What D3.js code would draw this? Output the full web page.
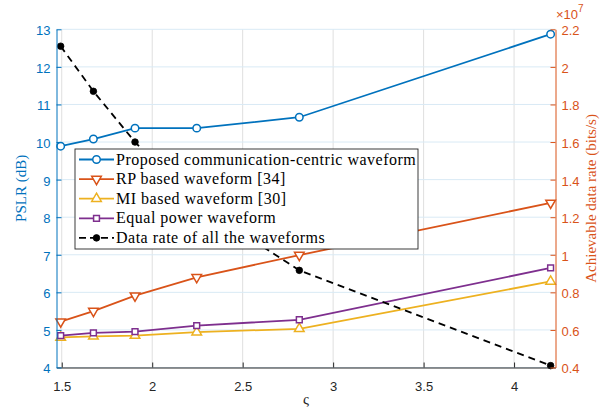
<!DOCTYPE html>
<html>
<head>
<meta charset="utf-8">
<script src="https://cdn.jsdelivr.net/npm/d3@7"></script>
<style>
  body { margin: 0; background: #fff; }
  svg { display: block; }
</style>
</head>
<body>
<svg id="chart" width="614" height="409"></svg>
<script>
// ς values shared by every series
const xValues = [1.494, 1.675, 1.905, 2.246, 2.813, 4.202];

// PSLR (dB), left axis
const proposed   = [9.89, 10.08, 10.37, 10.37, 10.66, 12.87];
const rpBased    = [5.22, 5.50, 5.91, 6.40, 6.99, 8.38];
const miBased    = [4.80, 4.83, 4.85, 4.94, 5.03, 6.29];
const equalPower = [4.85, 4.92, 4.955, 5.115, 5.27, 6.65];

// Achievable data rate (bits/s), right axis
const dataRate = [2.11e7, 1.87e7, 1.60e7, 1.27e7, 0.917e7, 0.41e7];

// Tick values
const xTicks = [1.5, 2, 2.5, 3, 3.5, 4];
const leftTicks = [4, 5, 6, 7, 8, 9, 10, 11, 12, 13];
const rightTicks = [0.4e7, 0.6e7, 0.8e7, 1.0e7, 1.2e7, 1.4e7, 1.6e7, 1.8e7, 2.0e7, 2.2e7];

const seriesNames = [
  "Proposed communication-centric waveform",
  "RP based waveform [34]",
  "MI based waveform [30]",
  "Equal power waveform",
  "Data rate of all the waveforms"
];

const BLUE = "#0072BD", ORANGE = "#D95319", YELLOW = "#EDB120",
      PURPLE = "#7E2F8E", BLACK = "#000000", AXIS = "#262626";
const SERIF = "'Liberation Serif', 'DejaVu Serif', serif";
const SANS = "'Liberation Sans', Arial, Helvetica, sans-serif";

const svg = d3.select("#chart");
const plot = { left: 56.5, right: 555.5, top: 29.3, bottom: 367.5 };

const x = d3.scaleLinear().domain([1.471, 4.229]).range([plot.left, plot.right]);
const yL = d3.scaleLinear().domain([4, 13]).range([plot.bottom, plot.top]);
const yR = d3.scaleLinear().domain([0.4e7, 2.2e7]).range([plot.bottom, plot.top]);

// Grid
const grid = svg.append("g");
grid.selectAll("line.v").data(xTicks).join("line")
  .attr("x1", d => x(d)).attr("x2", d => x(d))
  .attr("y1", plot.top).attr("y2", plot.bottom)
  .attr("stroke", "#dfdfdf").attr("stroke-width", 1);
grid.selectAll("line.h").data(leftTicks).join("line")
  .attr("x1", plot.left).attr("x2", plot.right)
  .attr("y1", d => yL(d)).attr("y2", d => yL(d))
  .attr("stroke", "#d9eaf5").attr("stroke-width", 1);

// Series definitions
const series = [
  { name: seriesNames[0], values: proposed,   y: yL, color: BLUE,   marker: "circle" },
  { name: seriesNames[1], values: rpBased,    y: yL, color: ORANGE, marker: "down" },
  { name: seriesNames[2], values: miBased,    y: yL, color: YELLOW, marker: "up" },
  { name: seriesNames[3], values: equalPower, y: yL, color: PURPLE, marker: "square" },
  { name: seriesNames[4], values: dataRate,   y: yR, color: BLACK,  marker: "dot", dash: "7,5" }
];

function markerPath(kind) {
  switch (kind) {
    case "circle": return d3.symbol(d3.symbolCircle, 44)();
    case "up":     return d3.symbol(d3.symbolTriangle, 40)();
    case "down":   return d3.symbol(d3.symbolTriangle, 40)();
    case "square": return d3.symbol(d3.symbolSquare, 34)();
    case "dot":    return d3.symbol(d3.symbolCircle, 34)();
  }
}

function drawMarker(g, kind, color, cx, cy) {
  const p = g.append("path")
    .attr("d", markerPath(kind))
    .attr("transform", `translate(${cx},${cy})` + (kind === "down" ? " rotate(180)" : ""));
  if (kind === "dot") {
    p.attr("fill", color).attr("stroke", color).attr("stroke-width", 0.8);
  } else {
    p.attr("fill", "#fff").attr("stroke", color).attr("stroke-width", 1.5);
  }
}

const dataLayer = svg.append("g");
series.forEach(s => {
  const pts = xValues.map((xv, i) => [x(xv), s.y(s.values[i])]);
  dataLayer.append("path")
    .attr("d", d3.line()(pts))
    .attr("fill", "none")
    .attr("stroke", s.color)
    .attr("stroke-width", 1.8)
    .attr("stroke-dasharray", s.dash || null);
  const mg = dataLayer.append("g");
  pts.forEach(p => drawMarker(mg, s.marker, s.color, p[0], p[1]));
});

// Axes
const xAxis = d3.axisBottom(x).tickValues(xTicks).tickFormat(d => d3.format("")(d))
  .tickSizeInner(-5).tickSizeOuter(0).tickPadding(14);
const gx = svg.append("g").attr("transform", `translate(0,${plot.bottom})`).call(xAxis);
gx.select(".domain").attr("stroke", AXIS).attr("stroke-width", 1);
gx.selectAll(".tick line").attr("stroke", AXIS);
gx.selectAll(".tick text").attr("fill", AXIS).style("font-family", SANS).style("font-size", "13px");

const leftAxis = d3.axisLeft(yL).tickValues(leftTicks)
  .tickSizeInner(-5).tickSizeOuter(0).tickPadding(6);
const gl = svg.append("g").attr("transform", `translate(${plot.left},0)`).call(leftAxis);
gl.select(".domain").attr("stroke", BLUE).attr("stroke-width", 1);
gl.selectAll(".tick line").attr("stroke", BLUE);
gl.selectAll(".tick text").attr("fill", BLUE).attr("dy", "0.42em")
  .style("font-family", SANS).style("font-size", "13px");

const rightAxis = d3.axisRight(yR).tickValues(rightTicks)
  .tickFormat(d => d3.format("")(+(d / 1e7).toFixed(1)))
  .tickSizeInner(-5).tickSizeOuter(0).tickPadding(6);
const gr = svg.append("g").attr("transform", `translate(${plot.right},0)`).call(rightAxis);
gr.select(".domain").attr("stroke", ORANGE).attr("stroke-width", 1);
gr.selectAll(".tick line").attr("stroke", ORANGE);
gr.selectAll(".tick text").attr("fill", ORANGE).attr("dy", "0.42em")
  .style("font-family", SANS).style("font-size", "13px");

// Exponent marker for the right axis
const expo = svg.append("text")
  .attr("x", 556).attr("y", 19)
  .attr("fill", ORANGE)
  .style("font-family", SANS).style("font-size", "13px");
expo.append("tspan").text("\u00d710");
expo.append("tspan").attr("dy", -7).style("font-size", "10px").text("7");

// Axis titles
svg.append("text")
  .attr("transform", `translate(26,${(plot.top + plot.bottom) / 2 - 10}) rotate(-90)`)
  .attr("text-anchor", "middle")
  .attr("fill", BLUE)
  .style("font-family", SERIF).style("font-size", "15px")
  .text("PSLR (dB)");

svg.append("text")
  .attr("transform", `translate(596,${(plot.top + plot.bottom) / 2}) rotate(-90)`)
  .attr("text-anchor", "middle")
  .attr("fill", ORANGE)
  .style("font-family", SERIF).style("font-size", "15px")
  .text("Achievable data rate (bits/s)");

svg.append("text")
  .attr("x", (plot.left + plot.right) / 2).attr("y", 404)
  .attr("text-anchor", "middle")
  .attr("fill", AXIS)
  .style("font-family", SERIF).style("font-size", "15px")
  .text("\u03c2");

// Legend
const legend = svg.append("g");
const lg = { left: 75, top: 149, width: 343, height: 100, row0: 159.5, step: 19.6 };
legend.append("rect")
  .attr("x", lg.left).attr("y", lg.top)
  .attr("width", lg.width).attr("height", lg.height)
  .attr("fill", "#fff").attr("stroke", AXIS).attr("stroke-width", 0.9);

series.forEach((s, i) => {
  const cy = lg.row0 + i * lg.step;
  legend.append("line")
    .attr("x1", 79).attr("x2", 114)
    .attr("y1", cy).attr("y2", cy)
    .attr("stroke", s.color).attr("stroke-width", 1.8)
    .attr("stroke-dasharray", s.dash ? "7,4" : null);
  drawMarker(legend, s.marker, s.color, 96.5, cy);
  legend.append("text")
    .attr("x", 116).attr("y", cy + 5)
    .attr("fill", "#000")
    .style("font-family", SERIF).style("font-size", "16px")
    .style("letter-spacing", "0.5px")
    .text(s.name);
});
</script>
</body>
</html>
